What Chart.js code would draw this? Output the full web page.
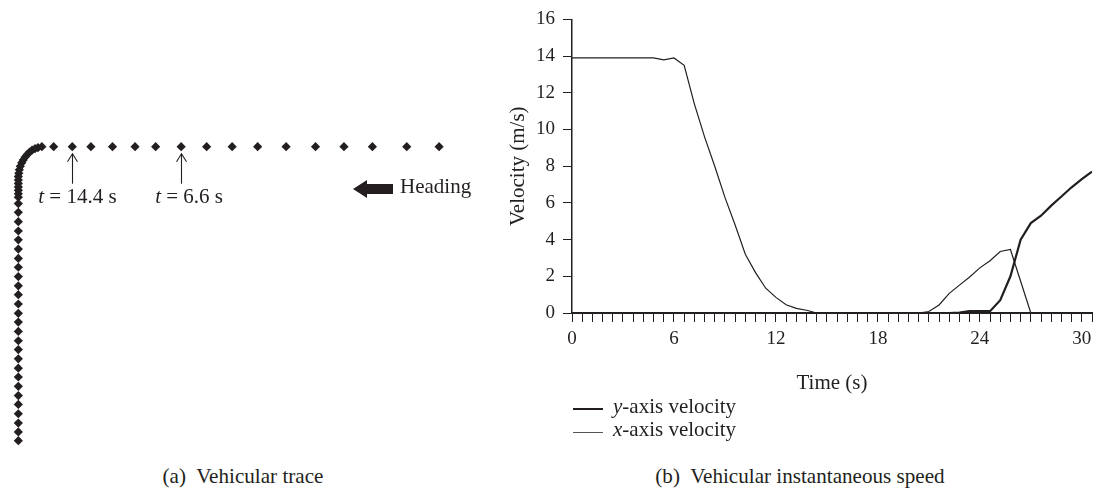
<!DOCTYPE html>
<html><head><meta charset="utf-8">
<script src="https://cdn.jsdelivr.net/npm/chart.js@4.4.1/dist/chart.umd.min.js"></script>
<style>
html,body{margin:0;padding:0;background:#fff;overflow:hidden;width:1097px;height:492px;}
body{position:relative;font-family:"Liberation Serif","Times New Roman",serif;color:#231f20;}
canvas{position:absolute;}
#cA{left:0;top:0;}
#cB{left:490px;top:0;}
.txt{position:absolute;white-space:nowrap;line-height:1;}
.ann{font-size:21px;}
#heading{left:400px;top:176px;font-size:21px;}
.cap{font-size:22px;top:465px;transform:translateX(-50%) scaleX(0.96);}
#capA{left:243px;}
#capB{left:800px;}
.leg{left:613px;font-size:21px;}
.legline{position:absolute;left:573px;width:30px;}
</style></head>
<body>
<canvas id="cA" width="480" height="460"></canvas>
<canvas id="cB" width="607" height="400"></canvas>
<div class="txt ann" id="ann0"><i>t</i> = 14.4 s</div>
<div class="txt ann" id="ann1"><i>t</i> = 6.6 s</div>
<div class="txt" id="heading">Heading</div>
<div class="legline" style="top:408px;border-top:2px solid #231f20;"></div>
<div class="txt leg" style="top:396px;"><i>y</i>-axis velocity</div>
<div class="legline" style="top:432px;border-top:1px solid #555;"></div>
<div class="txt leg" style="top:419px;"><i>x</i>-axis velocity</div>
<div class="txt cap" id="capA">(a)&nbsp; Vehicular trace</div>
<div class="txt cap" id="capB">(b)&nbsp; Vehicular instantaneous speed</div>
<script>
// ---------- Panel (b): velocities ----------
const time = [0,0.6,1.2,1.8,2.4,3.0,3.6,4.2,4.8,5.4,6.0,6.6,7.2,7.8,8.4,9.0,9.6,10.2,10.8,11.4,
  12.0,12.6,13.2,13.8,14.4,15.0,15.6,16.2,16.8,17.4,18.0,18.6,19.2,19.8,20.4,21.0,21.6,22.2,22.8,23.4,
  24.0,24.6,25.2,25.8,26.4,27.0,27.6,28.2,28.8,29.4,30.0,30.6];
const xVel = [13.9,13.9,13.9,13.9,13.9,13.9,13.9,13.9,13.9,13.8,13.9,13.5,11.4,9.6,8.0,6.3,4.8,3.2,2.2,1.35,
  0.85,0.45,0.25,0.15,0,0,0,0,0,0,0,0,0,0,0,0.08,0.44,1.07,1.52,1.96,
  2.46,2.85,3.35,3.46,1.73,0,0,0,0,0,0,0];
const yVel = [0,0,0,0,0,0,0,0,0,0,0,0,0,0,0,0,0,0,0,0,
  0,0,0,0,0,0,0,0,0,0,0,0,0,0,0,0,0,0,0.02,0.1,
  0.1,0.1,0.7,2.0,4.0,4.9,5.3,5.85,6.35,6.85,7.3,7.7];
const seriesNames = ['y-axis velocity','x-axis velocity'];
const xTitle = 'Time (s)';
const yTitle = 'Velocity (m/s)';

// ---------- Panel (a): vehicle trace (metres, east / north of the turn) ----------
const traceX = [214.5,198,180.5,166,151.5,136.5,122,109,96,83,70,59.5,48,37,27.5,18,
  12,10,8.5,7,5.75,4.5,3.5,2.5,1.75,1,0.5,0.25,0,0,0,0,0,0,0,
  0,0,0,0,0,0,0,0,0,0,0,0,0,0,0,0,0,0,0,0,0,0,0,0,0,0,0];
const traceY = [0,0,0,0,0,0,0,0,0,0,0,0,0,0,0,0,
  0,-0.5,-1,-1.75,-2.75,-4,-5.25,-6.75,-8.25,-10,-11.75,-13.5,-15.25,-17,-18.75,-20.5,-22.25,-24,-25.75,
  -29,-33.5,-38.25,-43,-47.5,-52.25,-57,-61.5,-66.25,-71,-75.5,-80.25,-85,-89.5,-94.25,-99,-103.5,
  -108.25,-113,-117.5,-122.25,-127,-131.5,-136.25,-141,-145.5,-150];
const markedPoints = [{index:14, el:'ann0', dx:-34}, {index:9, el:'ann1', dx:-26}];

const INK = '#231f20';
const FAM = '"Liberation Serif","Times New Roman",serif';

const annotPlugin = {
  id:'annot',
  afterDatasetsDraw(chart){
    const ctx = chart.ctx;
    const meta = chart.getDatasetMeta(0);
    ctx.save();
    ctx.strokeStyle = INK; ctx.fillStyle = INK; ctx.lineWidth = 1.1;
    markedPoints.forEach(m => {
      const p = meta.data[m.index];
      const x = Math.round(p.x) + 0.5, y0 = p.y + 7, y1 = p.y + 37;
      ctx.beginPath(); ctx.moveTo(x, y1); ctx.lineTo(x, y0); ctx.stroke();
      ctx.beginPath(); ctx.moveTo(x - 5, y0 + 8); ctx.lineTo(x, y0); ctx.lineTo(x + 5, y0 + 8); ctx.stroke();
      const el = document.getElementById(m.el);
      el.style.left = (p.x + m.dx) + 'px';
      el.style.top = (p.y + 39) + 'px';
    });
    // heading arrow
    ctx.beginPath();
    ctx.moveTo(353, 189); ctx.lineTo(367, 180); ctx.lineTo(367, 184); ctx.lineTo(393, 184);
    ctx.lineTo(393, 194); ctx.lineTo(367, 194); ctx.lineTo(367, 198); ctx.closePath(); ctx.fill();
    ctx.restore();
  }
};

new Chart(document.getElementById('cA'), {
  type:'scatter',
  data:{datasets:[{data: traceX.map((x,i)=>({x:x, y:traceY[i]})), pointStyle:'rectRot', pointRadius:4.6,
    backgroundColor:INK, borderColor:INK, borderWidth:0}]},
  options:{responsive:false, animation:false, devicePixelRatio:1,
    layout:{padding:0},
    plugins:{legend:{display:false}, tooltip:{enabled:false}},
    scales:{x:{display:false, min:-7, max:233}, y:{display:false, min:-157.5, max:72.5}}},
  plugins:[annotPlugin]
});

new Chart(document.getElementById('cB'), {
  type:'line',
  data:{datasets:[
    {label:seriesNames[0], data: time.map((t,i)=>({x:t, y:yVel[i]})), borderColor:INK, borderWidth:2.2, pointRadius:0, tension:0, fill:false},
    {label:seriesNames[1], data: time.map((t,i)=>({x:t, y:xVel[i]})), borderColor:INK, borderWidth:1.2, pointRadius:0, tension:0, fill:false}
  ]},
  options:{responsive:false, animation:false, devicePixelRatio:1,
    layout:{padding:{top:15, right:5, left:0, bottom:0}},
    plugins:{legend:{display:false}, tooltip:{enabled:false}},
    scales:{
      x:{type:'linear', min:0, max:30.6,
        ticks:{stepSize:0.6, precision:1, autoSkip:false, maxRotation:0, padding:6, color:INK, font:{family:FAM, size:19},
          callback:(v)=> Math.abs(v/6 - Math.round(v/6)) < 1e-6 ? String(Math.round(v)) : ''},
        grid:{drawOnChartArea:false, drawTicks:true, tickLength:9, color:INK, lineWidth:1},
        border:{display:true, color:INK, width:2},
        title:{display:true, text:xTitle, color:INK, font:{family:FAM, size:21}, padding:{top:0, bottom:4.4}},
        afterFit(s){ s.height = 87; s.paddingLeft = 0; s.paddingRight = 0; }
      },
      y:{min:0, max:16,
        ticks:{stepSize:2, padding:8, color:INK, font:{family:FAM, size:19}},
        grid:{drawOnChartArea:false, drawTicks:true, tickLength:9, color:INK, lineWidth:1},
        border:{display:true, color:INK, width:1.5},
        title:{display:true, text:yTitle, color:INK, font:{family:FAM, size:21}, padding:{top:15.4, bottom:0}},
        afterFit(s){ s.width = 82; }
      }
    }
  }
});
</script>
</body></html>
